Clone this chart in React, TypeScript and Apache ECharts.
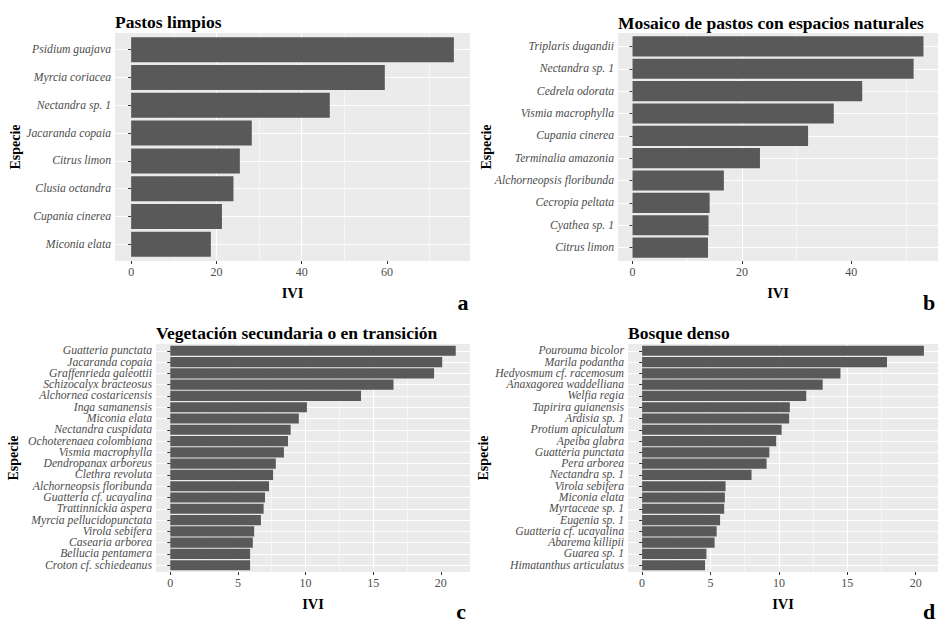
import React, { useEffect, useRef } from "react";
import * as echarts from "echarts";

const catsA = ["Psidium guajava", "Myrcia coriacea", "Nectandra sp. 1", "Jacaranda copaia", "Citrus limon", "Clusia octandra", "Cupania cinerea", "Miconia elata"];
const valsA = [75.7, 59.5, 46.6, 28.3, 25.5, 24.0, 21.3, 18.7];

const catsB = ["Triplaris dugandii", "Nectandra sp. 1", "Cedrela odorata", "Vismia macrophylla", "Cupania cinerea", "Terminalia amazonia", "Alchorneopsis floribunda", "Cecropia peltata", "Cyathea sp. 1", "Citrus limon"];
const valsB = [53.2, 51.4, 42.0, 36.8, 32.1, 23.3, 16.7, 14.1, 13.9, 13.8];

const catsC = ["Guatteria punctata", "Jacaranda copaia", "Graffenrieda galeottii", "Schizocalyx bracteosus", "Alchornea costaricensis", "Inga samanensis", "Miconia elata", "Nectandra cuspidata", "Ochoterenaea colombiana", "Vismia macrophylla", "Dendropanax arboreus", "Clethra revoluta", "Alchorneopsis floribunda", "Guatteria cf. ucayalina", "Trattinnickia aspera", "Myrcia pellucidopunctata", "Virola sebifera", "Casearia arborea", "Bellucia pentamera", "Croton cf. schiedeanus"];
const valsC = [21.1, 20.1, 19.5, 16.5, 14.1, 10.1, 9.5, 8.9, 8.7, 8.4, 7.8, 7.6, 7.3, 7.0, 6.9, 6.7, 6.2, 6.1, 5.9, 5.9];

const catsD = ["Pourouma bicolor", "Marila podantha", "Hedyosmum cf. racemosum", "Anaxagorea waddelliana", "Welfia regia", "Tapirira guianensis", "Ardisia sp. 1", "Protium apiculatum", "Apeiba glabra", "Guatteria punctata", "Pera arborea", "Nectandra sp. 1", "Virola sebifera", "Miconia elata", "Myrtaceae sp. 1", "Eugenia sp. 1", "Guatteria cf. ucayalina", "Abarema killipii", "Guarea sp. 1", "Himatanthus articulatus"];
const valsD = [20.6, 17.9, 14.5, 13.2, 12.0, 10.8, 10.75, 10.2, 9.8, 9.3, 9.1, 8.0, 6.1, 6.05, 6.0, 5.7, 5.45, 5.3, 4.7, 4.6];

const titles = ["Pastos limpios", "Mosaico de pastos con espacios naturales", "Vegetación secundaria o en transición", "Bosque denso"];
const panelLetters = ["a", "b", "c", "d"];
const ticksAB = [0, 20, 40, 60];
const ticksB = [0, 20, 40];
const ticksCD = [0, 5, 10, 15, 20];

const SERIF = '"Liberation Serif", "Times New Roman", serif';

const panels = [
  { cats: catsA, vals: valsA, ticks: ticksAB, major: 20, L: 115, R: 470, T: 33, B: 261, titleY: 22, letterX: 463, letterY: 302, specX: 15 },
  { cats: catsB, vals: valsB, ticks: ticksB, major: 20, L: 618, R: 938, T: 33, B: 261, titleY: 23, letterX: 929, letterY: 302, specX: 486 },
  { cats: catsC, vals: valsC, ticks: ticksCD, major: 5, L: 156, R: 470, T: 344, B: 572, titleY: 333, letterX: 461, letterY: 611, specX: 13 },
  { cats: catsD, vals: valsD, ticks: ticksCD, major: 5, L: 628, R: 938, T: 344, B: 572, titleY: 333, letterX: 929, letterY: 611, specX: 483 },
];

export default function App() {
  const ref = useRef<HTMLDivElement>(null);
  useEffect(() => {
    document.body.style.margin = "0";
    if (!ref.current) return;
    const chart = echarts.init(ref.current, null, { renderer: "svg" });
    const grid: any[] = [];
    const xAxis: any[] = [];
    const yAxis: any[] = [];
    const series: any[] = [];
    const graphic: any[] = [];
    panels.forEach((p, i) => {
      const n = p.cats.length;
      const W = p.R - p.L;
      const H = p.B - p.T;
      const step = H / (n + 0.2);
      const mx = Math.max(...p.vals);
      const xmin = -0.05 * mx;
      const xmax = 1.05 * mx;
      grid.push({ left: p.L, top: p.T, width: W, height: H, show: true, backgroundColor: "#EBEBEB", borderWidth: 0 });
      grid.push({ left: p.L, top: p.T + 0.1 * step, width: W, height: H - 0.2 * step, show: false });
      const idx = i * 2;
      xAxis.push({
        type: "value", gridIndex: idx, min: xmin, max: xmax,
        minInterval: p.major, maxInterval: p.major,
        axisLine: { show: false },
        axisTick: { show: true, length: 3, customValues: p.ticks, lineStyle: { color: "#333333", width: 1 } },
        axisLabel: { customValues: p.ticks, color: "#4D4D4D", fontSize: 12, fontFamily: SERIF, margin: 5, showMinLabel: true, showMaxLabel: true, hideOverlap: false },
        splitLine: { show: true, showMinLine: false, showMaxLine: false, lineStyle: { color: "#FFFFFF", width: 1.1 } },
        minorTick: { show: false, splitNumber: 2 },
        minorSplitLine: { show: true, lineStyle: { color: "#FFFFFF", width: 0.5 } },
        name: "IVI", nameLocation: "middle", nameGap: 24,
        nameTextStyle: { fontFamily: SERIF, fontWeight: "bold", fontSize: 14.5, color: "#000000" },
      });
      xAxis.push({ type: "value", gridIndex: idx + 1, min: xmin, max: xmax, show: false });
      yAxis.push({
        type: "value", gridIndex: idx, inverse: true, min: 0.4, max: n + 0.6,
        minInterval: 1, maxInterval: 1,
        axisLine: { show: false },
        axisTick: { show: false },
        axisLabel: { show: false },
        splitLine: { show: true, showMinLine: false, showMaxLine: false, lineStyle: { color: "#FFFFFF", width: 1.1 } },
      });
      yAxis.push({
        type: "category", gridIndex: idx + 1, inverse: true, data: p.cats,
        axisLine: { show: false },
        axisTick: { show: true, length: 3, alignWithLabel: true, interval: 0, lineStyle: { color: "#333333", width: 1 } },
        axisLabel: { interval: 0, color: "#4D4D4D", fontSize: 11.7, fontStyle: "italic", fontFamily: SERIF, margin: 4 },
        splitLine: { show: false },
      });
      series.push({
        type: "bar", xAxisIndex: idx + 1, yAxisIndex: idx + 1, data: p.vals, barWidth: "90%",
        itemStyle: { color: "#595959" }, silent: true,
      });
      graphic.push({
        type: "text", x: p.L, y: p.titleY,
        style: { text: titles[i], font: `bold 17.5px ${SERIF}`, fill: "#000000", textAlign: "left", textVerticalAlign: "middle" },
      });
      graphic.push({
        type: "text", x: p.letterX, y: p.letterY,
        style: { text: panelLetters[i], font: `bold 22px ${SERIF}`, fill: "#000000", textAlign: "center", textVerticalAlign: "middle" },
      });
      graphic.push({
        type: "text", x: p.specX, y: (p.T + p.B) / 2, rotation: Math.PI / 2,
        style: { text: "Especie", font: `bold 14px ${SERIF}`, fill: "#000000", textAlign: "center", textVerticalAlign: "middle" },
      });
    });
    chart.setOption({
      animation: false,
      backgroundColor: "#FFFFFF",
      grid, xAxis, yAxis, series, graphic,
    });
    return () => chart.dispose();
  }, []);
  return <div ref={ref} style={{ width: 938, height: 625 }} />;
}
